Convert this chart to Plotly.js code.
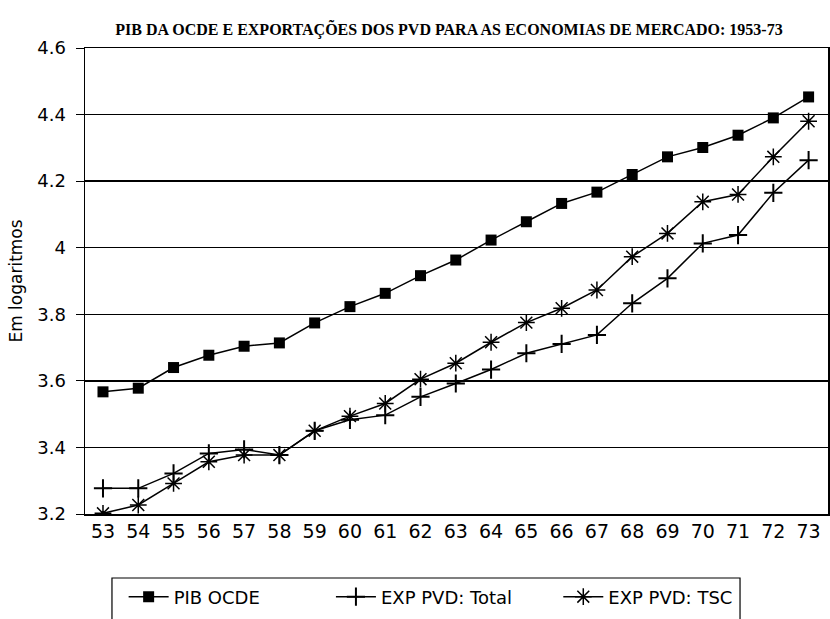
<!DOCTYPE html>
<html>
<head>
<meta charset="utf-8">
<script src="https://cdn.plot.ly/plotly-3.0.1.min.js"></script>
<style>html,body{margin:0;padding:0;background:#fff;}#chart{width:830px;height:619px;}</style>
</head>
<body>
<div id="chart"></div>
<script>
const years = [53,54,55,56,57,58,59,60,61,62,63,64,65,66,67,68,69,70,71,72,73];
const yearLabels = years.map(String);
const pibOcde = [3.567,3.578,3.640,3.677,3.704,3.714,3.774,3.823,3.863,3.916,3.963,4.023,4.078,4.133,4.167,4.220,4.273,4.301,4.338,4.390,4.453];
const expTotal = [3.277,3.277,3.322,3.382,3.394,3.377,3.450,3.483,3.497,3.552,3.592,3.634,3.683,3.711,3.738,3.833,3.908,4.013,4.038,4.165,4.263];
const expTsc = [3.202,3.227,3.292,3.357,3.377,3.377,3.450,3.494,3.532,3.605,3.653,3.716,3.775,3.818,3.873,3.973,4.043,4.138,4.160,4.273,4.380];
const yTicks = [3.2,3.4,3.6,3.8,4.0,4.2,4.4,4.6];
const yTickLabels = ["3.2","3.4","3.6","3.8","4","4.2","4.4","4.6"];
const seriesNames = ["PIB OCDE","EXP PVD: Total","EXP PVD: TSC"];

const traces = [
  {x: years, y: pibOcde, name: seriesNames[0], type: 'scatter', mode: 'lines+markers', legend: 'legend',
   line: {color: '#000', width: 1.5},
   marker: {symbol: 'square', size: 11, color: '#000'}},
  {x: years, y: expTotal, name: seriesNames[1], type: 'scatter', mode: 'lines+markers', legend: 'legend2',
   line: {color: '#000', width: 1.5},
   marker: {symbol: 'cross-thin', size: 13, color: '#000', line: {color: '#000', width: 2}}},
  {x: years, y: expTsc, name: seriesNames[2], type: 'scatter', mode: 'lines+markers', legend: 'legend3',
   line: {color: '#000', width: 1.5},
   marker: {symbol: 'asterisk', size: 14, color: '#000', line: {color: '#000', width: 1.5}}}
];

const legFont = {family: 'DejaVu Sans', size: 18, color: '#000'};
function leg(x) {
  return {orientation: 'h', x: x, xanchor: 'left', y: -0.178, yanchor: 'middle',
          borderwidth: 0, bgcolor: 'rgba(0,0,0,0)', font: legFont, itemwidth: 40};
}

const layout = {
  width: 830, height: 619,
  paper_bgcolor: '#fff', plot_bgcolor: '#fff',
  margin: {l: 85, r: 2, t: 48, b: 105},
  title: {text: 'PIB DA OCDE E EXPORTAÇÕES DOS PVD PARA AS ECONOMIAS DE MERCADO: 1953-73',
          font: {family: 'Liberation Serif', size: 16, color: '#000', weight: 'bold'},
          x: 0.541, xanchor: 'center', y: 0.952, yanchor: 'middle'},
  showlegend: true,
  legend: leg(0.052),
  legend2: leg(0.331),
  legend3: leg(0.637),
  shapes: [{type: 'rect', xref: 'paper', yref: 'paper', x0: 0.0363, x1: 0.8816, y0: -0.1373, y1: -0.26,
            line: {color: '#000', width: 1.2}, fillcolor: 'rgba(0,0,0,0)'}],
  xaxis: {range: [52.49, 73.55], tickmode: 'array', tickvals: years, ticktext: yearLabels,
          showgrid: false, zeroline: false, showline: true, mirror: true, automargin: false,
          linecolor: '#000', linewidth: 1.5, ticks: '',
          tickfont: {family: 'DejaVu Sans', size: 19, color: '#000'}},
  yaxis: {range: [3.2, 4.6], tickmode: 'array', tickvals: yTicks, ticktext: yTickLabels,
          showgrid: true, gridcolor: '#000', gridwidth: 1.5, zeroline: false, automargin: false,
          showline: true, mirror: true, linecolor: '#000', linewidth: 1.5,
          ticks: 'outside', ticklen: 8, tickcolor: '#000', ticklabelstandoff: 6,
          tickfont: {family: 'DejaVu Sans', size: 18, color: '#000'},
          title: {text: 'Em logaritmos', standoff: 10,
                  font: {family: 'DejaVu Sans', size: 17, color: '#000'}}}
};

Plotly.newPlot('chart', traces, layout, {displayModeBar: false, staticPlot: true});
</script>
</body>
</html>
